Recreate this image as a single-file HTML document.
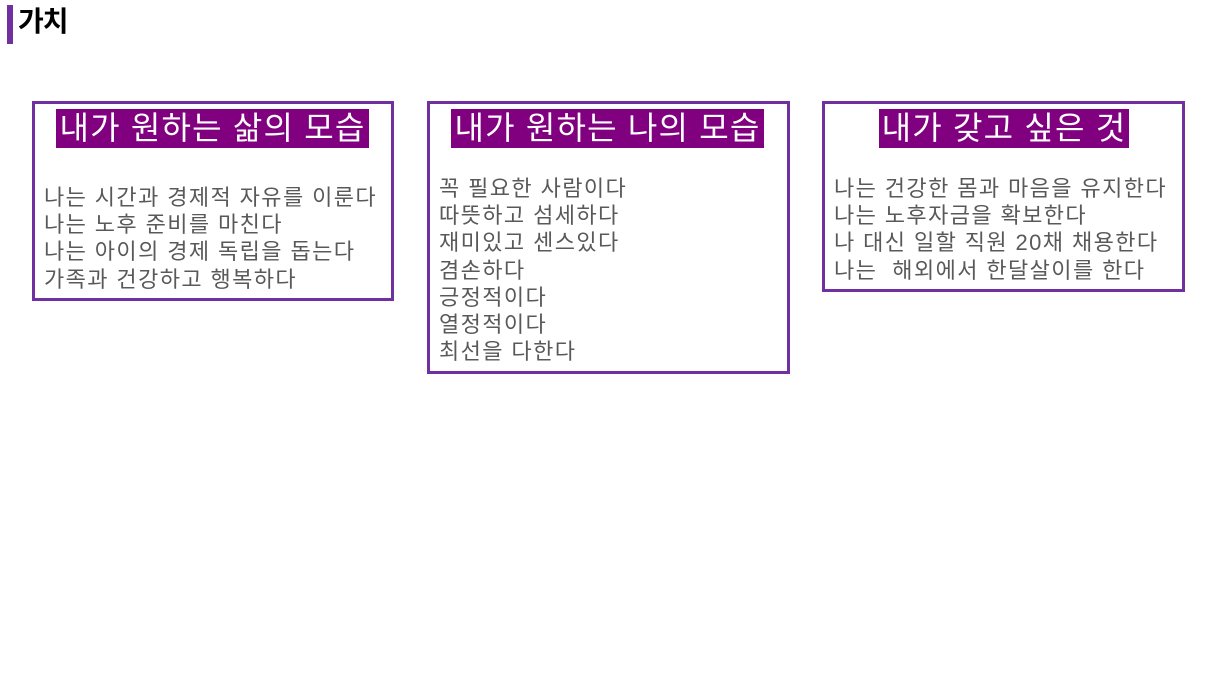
<!DOCTYPE html>
<html><head><meta charset="utf-8"><style>
body{margin:0;width:1216px;height:684px;background:#fff;position:relative;overflow:hidden;font-family:"Liberation Sans","Noto Sans CJK KR",sans-serif}
.bar{position:absolute;left:7px;top:5px;width:6px;height:39px;background:#7030a0}
.h{position:absolute;left:18px;top:4px;font-size:28px;font-weight:bold;line-height:36px;color:#000;letter-spacing:-1px}
.box{position:absolute;border:3px solid #7030a0;box-sizing:border-box;background:#fff}
.t{position:absolute;top:5px;height:39px;background:#800080;color:#fff;font-size:32px;line-height:39px;text-align:center;white-space:nowrap;letter-spacing:1.2px}
.b{position:absolute;left:9px;color:#595959;font-size:22px;line-height:27.2px;white-space:pre;letter-spacing:1.4px}
</style></head><body>
<div class="bar"></div><div class="h">가치</div>
<div class="box" style="left:32px;top:101px;width:362px;height:200px">
<div class="t" style="left:21px;width:313px">내가 원하는 삶의 모습</div>
<div class="b" style="top:80px">나는 시간과 경제적 자유를 이룬다
나는 노후 준비를 마친다
나는 아이의 경제 독립을 돕는다
가족과 건강하고 행복하다</div></div>
<div class="box" style="left:427px;top:101px;width:363px;height:273px">
<div class="t" style="left:21px;width:313px">내가 원하는 나의 모습</div>
<div class="b" style="top:71px">꼭 필요한 사람이다
따뜻하고 섬세하다
재미있고 센스있다
겸손하다
긍정적이다
열정적이다
최선을 다한다</div></div>
<div class="box" style="left:822px;top:101px;width:363px;height:191px">
<div class="t" style="left:54px;width:250px">내가 갖고 싶은 것</div>
<div class="b" style="top:71px">나는 건강한 몸과 마음을 유지한다
나는 노후자금을 확보한다
나 대신 일할 직원 20채 채용한다
나는  해외에서 한달살이를 한다</div></div>
</body></html>
